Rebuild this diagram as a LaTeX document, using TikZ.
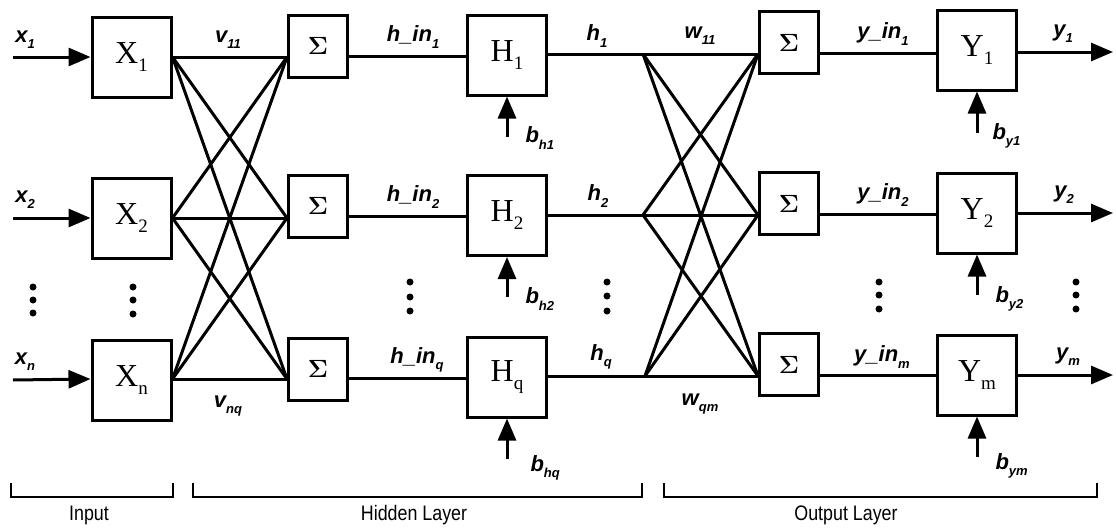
\documentclass[tikz,border=0pt]{standalone}
\usepackage{fontspec}
\usepackage{amsmath}
\setmainfont{Liberation Serif}
\newfontfamily\lblfont{Liberation Sans}
\newfontfamily\narrowfont[FakeStretch=0.85]{Liberation Sans}
\usetikzlibrary{arrows.meta}
\newcommand\lb[2]{{\lblfont\bfseries\itshape\fontsize{22}{22}\selectfont #1\raisebox{-0.28em}{\fontsize{13}{13}\selectfont #2}}}
\newcommand\bx[2]{{\fontsize{32}{32}\selectfont #1\raisebox{-0.25em}{\fontsize{19}{19}\selectfont #2}}}
\newcommand\sig{{\fontsize{24}{24}\selectfont $\boldsymbol{\Sigma}$}}
\tikzset{
  box/.style={draw, line width=3pt, inner sep=0pt, fill=white},
  xbox/.style={box, minimum width=79pt, minimum height=80pt},
  sbox/.style={box, minimum width=59pt, minimum height=62pt},
  ln/.style={line width=3pt},
  arr/.style={ln, -{Triangle[length=22pt,width=18pt]}},
  dotn/.style={circle, fill, inner sep=0pt, minimum size=7pt},
  brk/.style={line width=2.2pt},
  ttl/.style={font=\narrowfont\fontsize{21}{21}\selectfont}
}
\begin{document}
\begin{tikzpicture}[x=1pt,y=-1pt]
\useasboundingbox (0,0) rectangle (1116,530);
% row levels
\coordinate (ya1) at (0,57); \coordinate (ya2) at (0,218); \coordinate (ya3) at (0,379);
\coordinate (yb1) at (0,56); \coordinate (yb2) at (0,216); \coordinate (yb3) at (0,378);
\coordinate (yc1) at (0,54); \coordinate (yc2) at (0,215); \coordinate (yc3) at (0,376);
\coordinate (yd1) at (0,53); \coordinate (yd2) at (0,214); \coordinate (yd3) at (0,375);
\coordinate (ye1) at (0,52); \coordinate (ye2) at (0,213); \coordinate (ye3) at (0,375);
\coordinate (in1) at (13,57); \coordinate (in2) at (13,218); \coordinate (in3) at (13,380);
\coordinate (out1) at (1113,52); \coordinate (out2) at (1113,213); \coordinate (out3) at (1113,375);
\coordinate (f1) at (643,54); \coordinate (f2) at (643,215); \coordinate (f3) at (645,376);
% boxes
\node[xbox] (X1) at (131.5,57) {\bx{X}{1}};
\node[xbox] (X2) at (131.5,218.5) {\bx{X}{2}};
\node[xbox] (X3) at (131.5,380.5) {\bx{X}{n}};
\node[sbox] (S1) at (318,46) {\sig};
\node[sbox] (S2) at (318,206) {\sig};
\node[sbox] (S3) at (318,369) {\sig};
\node[xbox] (H1) at (507,55) {\bx{H}{1}};
\node[xbox] (H2) at (507,215.5) {\bx{H}{2}};
\node[xbox] (H3) at (507,377) {\bx{H}{q}};
\node[sbox] (O1) at (789,42.5) {\sig};
\node[sbox] (O2) at (789,203.5) {\sig};
\node[sbox] (O3) at (789,364.5) {\sig};
\node[xbox] (Y1) at (977,50) {\bx{Y}{1}};
\node[xbox] (Y2) at (977,213) {\bx{Y}{2}};
\node[xbox] (Y3) at (977,375) {\bx{Y}{m}};
% input arrows
\draw[arr] (in1) -- (X1.west |- ya1);
\draw[arr] (in2) -- (X2.west |- ya2);
\draw[arr] (in3) -- (X3.west |- ya3);
% input to hidden sums
\foreach \i in {1,2,3}{\foreach \j in {1,2,3}{
  \draw[ln] (X\i.east |- ya\i) -- (S\j.west |- ya\j);
}}
% sums to hidden units, hidden to output sums, outputs
\foreach \i in {1,2,3}{
  \draw[ln] (S\i.east |- yb\i) -- (H\i.west |- yb\i);
  \draw[ln] (H\i.east |- yc\i) -- (O\i.west |- yc\i);
  \draw[ln] (O\i.east |- yd\i) -- (Y\i.west |- yd\i);
  \draw[arr] (Y\i.east |- ye\i) -- (out\i);
}
% fan-out hidden to output sums
\foreach \i in {1,2,3}{\foreach \j in {1,2,3}{
  \ifnum\i=\j\else\draw[ln] (f\i) -- (O\j.west |- yc\j);\fi
}}
% bias arrows
\coordinate (bh1) at (507,137); \coordinate (bh2) at (507,297); \coordinate (bh3) at (507,459);
\coordinate (by1) at (977,133); \coordinate (by2) at (977,295); \coordinate (by3) at (977,457);
\foreach \i in {1,2,3}{
  \draw[arr] (bh\i) -- (H\i.south);
  \draw[arr] (by\i) -- (Y\i.south);
}
% labels
\node (lx1) at (25,40) {\lb{x}{1}};
\node (lx2) at (25,200) {\lb{x}{2}};
\node (lx3) at (25,362) {\lb{x}{n}};
\node (lv1) at (228,40) {\lb{v}{11}};
\node (lv2) at (228,406) {\lb{v}{nq}};
\node (lhi1) at (413,37) {\lb{h\_in}{1}};
\node (lhi2) at (413,197) {\lb{h\_in}{2}};
\node (lhi3) at (417,360) {\lb{h\_in}{q}};
\node (lh1) at (597,36) {\lb{h}{1}};
\node (lh2) at (598,196) {\lb{h}{2}};
\node (lh3) at (601,357) {\lb{h}{q}};
\node (lw1) at (700,36) {\lb{w}{11}};
\node (lw2) at (700,404) {\lb{w}{qm}};
\node (lyi1) at (883,34) {\lb{y\_in}{1}};
\node (lyi2) at (883,195) {\lb{y\_in}{2}};
\node (lyi3) at (882,357) {\lb{y\_in}{m}};
\node (ly1) at (1063,34) {\lb{y}{1}};
\node (ly2) at (1064,195) {\lb{y}{2}};
\node (ly3) at (1068,357) {\lb{y}{m}};
\node[anchor=west] (lbh1) at (522,138) {\lb{b}{h1}};
\node[anchor=west] (lbh2) at (522,299) {\lb{b}{h2}};
\node[anchor=west] (lbh3) at (527,468) {\lb{b}{hq}};
\node[anchor=west] (lby1) at (989,136) {\lb{b}{y1}};
\node[anchor=west] (lby2) at (992,299) {\lb{b}{y2}};
\node[anchor=west] (lby3) at (992,466) {\lb{b}{ym}};
% dots
\foreach \x/\a/\b/\c in {33/287/300/313, 133/287/300/314, 410/282/297/311, 607/282/296/311, 879/282/295/309, 1076/282/295/309}{
  \node[dotn] at (\x,\a) {};
  \node[dotn] at (\x,\b) {};
  \node[dotn] at (\x,\c) {};
}
% brackets
\draw[brk] (11,483) -- (11,497) -- (173,497) -- (173,483);
\draw[brk] (193,483) -- (193,497) -- (642,497) -- (642,483);
\draw[brk] (664,483) -- (664,497) -- (1097,497) -- (1097,483);
\node[ttl] (t1) at (89,515) {Input};
\node[ttl] (t2) at (414,515) {Hidden Layer};
\node[ttl] (t3) at (846,515) {Output Layer};
\end{tikzpicture}
\end{document}
